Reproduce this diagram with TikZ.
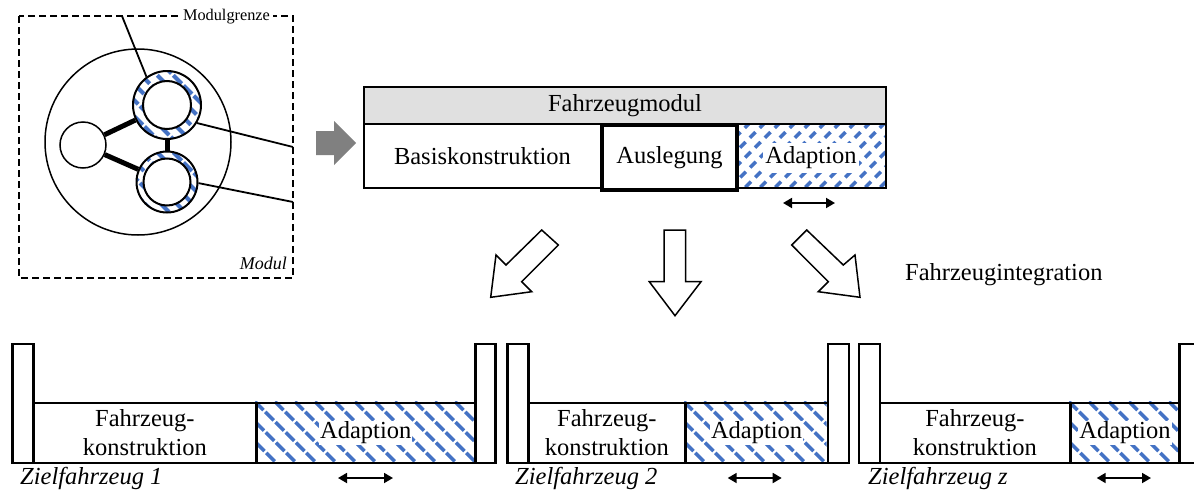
\documentclass[tikz,border=0pt]{standalone}
\usepackage{fontspec}
\setmainfont{Liberation Serif}
\usetikzlibrary{arrows.meta}
\definecolor{hatchblue}{RGB}{68,114,196}
\definecolor{headgray}{RGB}{224,224,224}
\definecolor{arrowgray}{RGB}{128,128,128}

% stripes running down-right inside a clipped rectangle: x1,y1,x2,y2,spacing
\newcommand\backhatch[5]{%
  \begin{scope}
    \clip (#1,#2) rectangle (#3,#4);
    \pgfmathsetmacro\hh{#4-#2}
    \pgfmathsetmacro\xa{#1-\hh}
    \pgfmathsetmacro\xb{\xa+#5}
    \foreach \xx in {\xa,\xb,...,#3}
      \draw[stripe] (\xx,#2) -- ++(\hh,\hh);
  \end{scope}}
% stripes running up-right inside a clipped rectangle: x1,y1,x2,y2,spacing
\newcommand\fwdhatch[5]{%
  \begin{scope}
    \clip (#1,#2) rectangle (#3,#4);
    \pgfmathsetmacro\hh{#4-#2}
    \pgfmathsetmacro\xa{#1-\hh}
    \pgfmathsetmacro\xb{\xa+#5}
    \foreach \xx in {\xa,\xb,...,#3}
      \draw[stripe,dash pattern=on 8pt off 6pt] (\xx,#4) -- ++(\hh,-\hh);
  \end{scope}}
% hatched ring: centre x, centre y, outer radius
\newcommand\ringhatch[3]{%
  \begin{scope}
    \clip (#1,#2) circle (#3);
    \foreach \k in {-60,-44,...,60}
      \draw[stripe,line width=4pt] (#1+\k-40,#2-40) -- ++(80,80);
  \end{scope}}

\begin{document}
\begin{tikzpicture}[x=1pt,y=-1pt,
  big/.style={font=\fontsize{24.5}{29}\selectfont},
  stripe/.style={hatchblue,line width=3.5pt,dash pattern=on 12pt off 2.5pt},
  box/.style={draw,line width=2pt,inner sep=0pt,anchor=north west},
  post/.style={draw,line width=2.5pt,fill=white,inner sep=0pt,anchor=north west,
    minimum width=21pt,minimum height=119pt},
  blockarrow/.style={draw,line width=1.5pt,fill=white,line join=miter},
  dbl/.style={{Triangle[length=9pt,width=10pt]}-{Triangle[length=9pt,width=10pt]},line width=1.8pt},
  lab/.style={big,fill=white,inner sep=1pt},
  car/.style={big,font=\fontsize{24.5}{29}\selectfont\itshape,anchor=base west,inner sep=0pt}
]
\useasboundingbox (0,0) rectangle (1194,490);

% ---------------- module sketch ----------------
\draw[line width=1.5pt,dash pattern=on 7pt off 4pt] (19,16) rectangle (293,278);
\node[font=\fontsize{16.3}{18}\selectfont,fill=white,inner xsep=3pt,inner ysep=1pt] (grenze) at (226.5,17) {Modulgrenze};
\node[font=\fontsize{18}{20}\selectfont\itshape,anchor=east,inner sep=1pt] (modul) at (288,263) {Modul};

\node[circle,draw,line width=1.5pt,minimum size=186pt,inner sep=0pt] (outer) at (138,142) {};
\node[circle,draw,line width=1.5pt,fill=white,minimum size=46pt,inner sep=0pt] (c0) at (83,145) {};

\ringhatch{167}{105}{34}
\ringhatch{167}{182}{30.5}
\node[circle,draw,line width=2pt,minimum size=68pt,inner sep=0pt] (r1) at (167,105) {};
\node[circle,draw,line width=2pt,fill=white,minimum size=48pt,inner sep=0pt] (r1i) at (167,105) {};
\node[circle,draw,line width=2pt,minimum size=61pt,inner sep=0pt] (r2) at (167,182) {};
\node[circle,draw,line width=2pt,fill=white,minimum size=47pt,inner sep=0pt] (r2i) at (167,182) {};

\draw[line width=5pt] (c0) -- (r1);
\draw[line width=5pt] (c0) -- (r2);
\draw[line width=5pt] (r1) -- (r2);

\coordinate (e1) at (122,16);
\coordinate (e2) at (293,147);
\coordinate (e3) at (293,202);
\draw[line width=1.8pt] (e1) -- (r1.126);
\draw[line width=1.8pt] (r1.-31) -- (e2);
\draw[line width=1.8pt] (r2.-2) -- (e3);

% grey arrow into the module bar
\fill[arrowgray] (316,131) -- (334,131) -- (334,121) -- (356,143) -- (334,165) -- (334,155) -- (316,155) -- cycle;

% ---------------- vehicle module bar ----------------
\fwdhatch{735}{122.7}{885}{187.3}{15}
\node[box,fill=headgray,big,minimum width=522pt,minimum height=36.7pt] (hdr) at (363,86) {Fahrzeugmodul};
\node[box,big,fill=white,minimum width=237pt,minimum height=64.6pt] (basis) at (363,122.7) {Basiskonstruktion};
\node[box,minimum width=150pt,minimum height=64.6pt] (adapt) at (735,122.7) {};
\node[big,fill=white,inner xsep=2pt,inner ysep=4pt] (adaptlab) at ([yshift=-2pt]adapt.center) {Adaption};
\node[box,big,fill=white,line width=4pt,minimum width=135pt,minimum height=65pt] (ausl) at (600,122.7) {Auslegung};

\coordinate (h1) at (783,203);
\coordinate (h2) at (835,203);
\draw[dbl] (h1) -- (h2);

% ---------------- block arrows ----------------
\draw[blockarrow] (541.7,230) -- (558.3,245) -- (521.7,281.7) -- (531.7,291.7) -- (490.7,297.3) -- (496,255) -- (506,265) -- cycle;
\draw[blockarrow] (664,230) -- (685.7,230) -- (685.7,281.7) -- (701,281.7) -- (675,315.7) -- (649.3,281.7) -- (664,281.7) -- cycle;
\draw[blockarrow] (806.7,230) -- (843.3,265) -- (855,255) -- (860,297.3) -- (818.3,291.7) -- (828.3,281.7) -- (791.7,245) -- cycle;

\node[big,anchor=base west,inner sep=0pt] (integ) at (905,280) {Fahrzeugintegration};

% ---------------- target vehicles ----------------
% vehicle 1
\backhatch{255}{401.7}{474}{461.7}{20}
\node[box,minimum width=219pt,minimum height=60pt,line width=2.5pt] (a1) at (255,401.7) {};
\node[box,big,align=center,fill=white,minimum width=222.7pt,minimum height=60pt,line width=2.5pt] (k1) at (32.3,401.7) {Fahrzeug-\\konstruktion};
\node[lab] (a1lab) at (a1.center) {Adaption};
\node[post] (p1l) at (11,342.7) {};
\node[post,minimum width=20pt] (p1r) at (474,342.7) {};
\node[car] (z1) at (20,484) {Zielfahrzeug 1};
\coordinate (d1a) at (338,478);
\coordinate (d1b) at (393,478);
\draw[dbl] (d1a) -- (d1b);

% vehicle 2
\backhatch{684}{401.7}{826.7}{461.7}{20}
\node[box,minimum width=142.7pt,minimum height=60pt,line width=2.5pt] (a2) at (684,401.7) {};
\node[box,big,align=center,fill=white,minimum width=156.7pt,minimum height=60pt,line width=2.5pt] (k2) at (527.3,401.7) {Fahrzeug-\\konstruktion};
\node[lab] (a2lab) at (a2.center) {Adaption};
\node[post] (p2l) at (506,342.7) {};
\node[post] (p2r) at (826.7,342.7) {};
\node[car] (z2) at (515,484) {Zielfahrzeug 2};
\coordinate (d2a) at (727.7,478);
\coordinate (d2b) at (781.7,478);
\draw[dbl] (d2a) -- (d2b);

% vehicle z
\backhatch{1069}{401.7}{1178.3}{461.7}{20}
\node[box,minimum width=109.3pt,minimum height=60pt,line width=2.5pt] (a3) at (1069,401.7) {};
\node[box,big,align=center,fill=white,minimum width=190.7pt,minimum height=60pt,line width=2.5pt] (k3) at (878.3,401.7) {Fahrzeug-\\konstruktion};
\node[lab] (a3lab) at (a3.center) {Adaption};
\node[post] (p3l) at (857.7,342.7) {};
\node[post] (p3r) at (1178.3,342.7) {};
\node[car] (z3) at (868,484) {Zielfahrzeug z};
\coordinate (d3a) at (1096.7,478);
\coordinate (d3b) at (1151,478);
\draw[dbl] (d3a) -- (d3b);
\end{tikzpicture}
\end{document}
